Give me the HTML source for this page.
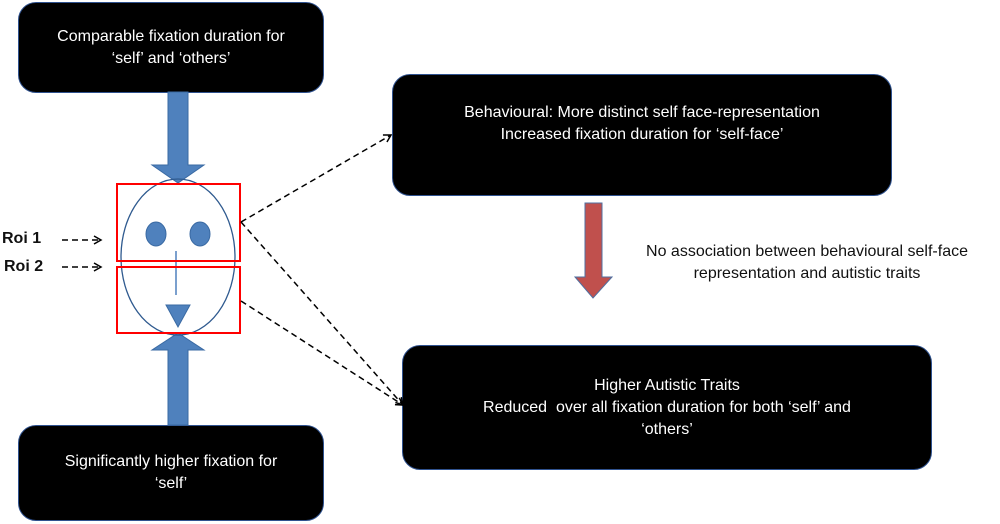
<!DOCTYPE html>
<html><head><meta charset="utf-8"><style>
body{margin:0;width:1000px;height:524px;background:#fff;overflow:hidden;position:relative;font-family:"Liberation Sans",sans-serif}
.b{position:absolute;background:#000;border:1.5px solid #2f528f;border-radius:18px;color:#fff;display:flex;align-items:center;justify-content:center;text-align:center;font-size:16px;line-height:22px;box-sizing:border-box}
.t{position:absolute;font-size:16px;line-height:22px;text-align:center;color:#111}
</style></head><body>
<div class="b" style="left:18px;top:2px;width:306px;height:91px">Comparable fixation duration for<br>‘self’ and ‘others’</div>
<div class="b" style="left:18px;top:425px;width:306px;height:96px">Significantly higher fixation for<br>‘self’</div>
<div class="b" style="left:392px;top:74px;width:500px;height:122px;padding-bottom:22px">Behavioural: More distinct self face-representation<br>Increased fixation duration for ‘self-face’</div>
<div class="b" style="left:402px;top:345px;width:530px;height:125px">Higher Autistic Traits<br>Reduced&nbsp; over all fixation duration for both ‘self’ and<br>‘others’</div>
<div class="t" style="left:612px;top:241px;width:390px">No association between behavioural self-face<br>representation and autistic traits</div>
<div class="t" style="left:2px;top:228px;font-weight:bold">Roi 1</div>
<div class="t" style="left:4px;top:256px;font-weight:bold">Roi 2</div>
<svg width="1000" height="524" style="position:absolute;left:0;top:0">
<defs><marker id="a" markerWidth="10" markerHeight="10" refX="8" refY="5" orient="auto" markerUnits="userSpaceOnUse"><path d="M1,1 L8,5 L1,9" fill="none" stroke="#000" stroke-width="1.5"/></marker></defs>
<path d="M168,92 H188 V165 H204 L178,183 L152,165 H168 Z" fill="#4f81bd" stroke="#3a6aa3"/>
<path d="M168,425 H188 V350 H204 L178,333 L152,350 H168 Z" fill="#4f81bd" stroke="#3a6aa3"/>
<path d="M585,203 H602 V277 H612 L593,298 L575,277 H585 Z" fill="#c0504d" stroke="#4f6fa0"/>
<ellipse cx="178" cy="257" rx="57" ry="78" fill="none" stroke="#2f5a8f" stroke-width="1.3"/>
<ellipse cx="156" cy="234" rx="10" ry="12" fill="#4f81bd" stroke="#3a6aa3"/>
<ellipse cx="200" cy="234" rx="10" ry="12" fill="#4f81bd" stroke="#3a6aa3"/>
<line x1="176" y1="251" x2="176" y2="295" stroke="#4f81bd" stroke-width="1.5"/>
<path d="M166,305 H190 L178,327 Z" fill="#4f81bd" stroke="#3a6aa3"/>
<rect x="117" y="184" width="123" height="77" fill="none" stroke="#f00" stroke-width="2"/>
<rect x="117" y="267" width="123" height="66" fill="none" stroke="#f00" stroke-width="2"/>
<g stroke="#000" stroke-width="1.5" stroke-dasharray="6,4" fill="none" marker-end="url(#a)">
<line x1="62" y1="240" x2="101" y2="240"/>
<line x1="62" y1="267" x2="101" y2="267"/>
<line x1="241" y1="222" x2="391" y2="135"/>
<line x1="241" y1="222" x2="403" y2="405"/>
<line x1="241" y1="301" x2="403" y2="405"/>
</g>
</svg>
</body></html>
